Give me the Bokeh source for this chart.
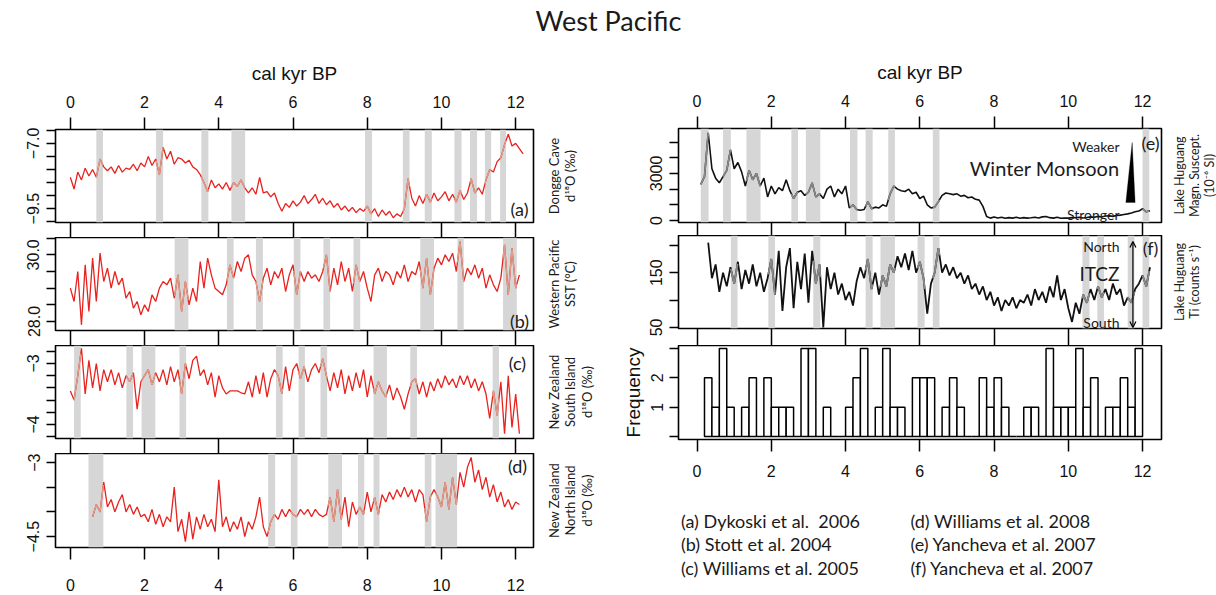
import numpy as np
from bokeh.plotting import figure
from bokeh.layouts import column, row
from bokeh.models import (Range1d, LinearAxis, FixedTicker, BoxAnnotation, Label,
                          Arrow, OpenHead, PolyAnnotation)
from bokeh.embed import file_html
from bokeh.resources import INLINE

# ---------------------------------------------------------------- data
X_TICKS = [0, 2, 4, 6, 8, 10, 12]

# (a) Dongge Cave d18O, ages 0.0 .. 12.2 kyr BP (step 0.1)
DONGGE_START = 0.0
DONGGE = [-8.3, -8.75, -8.1, -8.4, -7.95, -8.25, -8.0, -8.3, -7.6, -7.9,
          -8.05, -7.9, -8.15, -7.85, -8.1, -7.95, -8.0, -7.8, -8.05, -7.75,
          -7.9, -7.5, -7.85, -7.6, -8.2, -7.15, -7.6, -7.3, -7.8, -7.55,
          -7.6, -7.75, -7.65, -7.9, -8.0, -8.2, -8.5, -8.85, -8.4, -8.7,
          -8.55, -8.75, -8.5, -8.8, -8.5, -8.65, -8.4, -8.7, -8.9, -8.7,
          -8.95, -8.3, -8.9, -8.85, -9.05, -8.9, -9.3, -9.6, -9.3, -9.45,
          -9.2, -9.4, -9.25, -9.0, -9.3, -9.15, -8.95, -9.3, -9.1, -9.35,
          -9.2, -9.45, -9.3, -9.55, -9.4, -9.6, -9.45, -9.65, -9.5, -9.6,
          -9.4, -9.7, -9.5, -9.8, -9.55, -9.75, -9.6, -9.85, -9.7, -9.8,
          -9.5, -8.35, -9.1, -9.4, -9.0, -9.3, -8.95, -9.25, -8.9, -9.2,
          -9.05, -8.85, -9.2, -8.95, -9.25, -8.8, -9.15, -8.9, -8.35, -8.9,
          -8.7, -8.95, -8.4, -8.0, -8.1, -7.7, -7.55, -7.05, -6.65, -7.1,
          -7.0, -7.2, -7.4]

# (b) Western Pacific SST, ages 0.0 .. 12.1
SST_START = 0.0
SST = [29.0, 28.6, 29.5, 27.9, 29.7, 28.3, 29.9, 28.6, 30.05, 29.2,
       29.6, 29.0, 29.5, 29.1, 29.3, 28.7, 28.9, 28.4, 28.6, 28.2,
       28.5, 28.3, 28.8, 28.6, 29.0, 29.2, 29.1, 29.3, 28.7, 29.4,
       28.3, 29.2, 28.5, 29.0, 28.6, 29.8, 29.0, 29.9, 29.4, 29.0,
       28.9, 28.8, 29.1, 29.7, 29.3, 29.8, 29.5, 29.9, 30.0, 29.4,
       29.2, 28.6, 29.3, 29.6, 29.1, 29.5, 29.3, 29.6, 28.9, 29.4,
       29.7, 28.8, 29.5, 29.2, 29.5, 29.3, 29.4, 29.2, 29.5, 30.0,
       28.9, 29.6, 29.1, 29.8, 29.2, 29.6, 28.9, 29.7, 29.2, 29.5,
       29.0, 28.6, 29.4, 29.6, 29.2, 29.5, 29.4, 29.1, 29.5, 29.3,
       29.7, 29.2, 29.5, 29.4, 29.8, 29.0, 29.9, 28.8, 29.6, 29.9,
       29.7, 30.0, 29.8, 30.05, 29.5, 30.4, 29.2, 29.6, 29.4, 29.7,
       29.3, 29.6, 29.0, 29.4, 29.1, 28.9, 29.3, 30.3, 28.8, 30.2,
       29.0, 29.4]

# (c) New Zealand South Island d18O, ages 0.0 .. 12.1
NZS_START = 0.0
NZ_SOUTH = [-3.45, -3.6, -3.2, -2.75, -3.5, -2.95, -3.4, -3.0, -3.45, -3.1,
            -3.3, -3.1, -3.35, -3.15, -3.4, -3.2, -3.3, -3.15, -3.75, -3.3,
            -3.2, -3.1, -3.35, -3.15, -3.3, -3.1, -3.35, -3.05, -3.3, -3.1,
            -3.5, -3.0, -3.25, -2.95, -2.88, -3.2, -3.1, -3.35, -3.15, -3.55,
            -3.2, -3.4, -3.5, -3.45, -3.45, -3.45, -3.48, -3.5, -3.3, -3.55,
            -3.2, -3.5, -3.15, -3.55, -3.25, -3.1, -3.2, -3.5, -3.05, -3.45,
            -3.1, -3.0, -3.25, -3.05, -3.3, -3.1, -3.0, -3.15, -2.92, -3.2,
            -3.45, -3.15, -3.4, -3.1, -3.5, -3.2, -3.45, -3.15, -3.4, -3.1,
            -3.55, -3.2, -3.5, -3.3, -3.45, -3.55, -3.35, -3.6, -3.4, -3.55,
            -3.75, -3.5, -3.3, -3.25, -3.5, -3.3, -3.55, -3.3, -3.45, -3.25,
            -3.4, -3.2, -3.35, -3.25, -3.4, -3.2, -3.35, -3.2, -3.4, -3.25,
            -3.45, -3.3, -3.5, -3.9, -3.45, -3.85, -3.3, -4.15, -3.2, -4.05,
            -3.5, -4.15]

# (d) New Zealand North Island d18O, ages 0.6 .. 12.1
NZN_START = 0.6
NZ_NORTH = [-4.1, -3.85, -4.0, -3.4, -3.9, -3.75, -4.0, -3.8, -3.65, -4.0,
            -3.85, -4.05, -3.9, -4.1, -4.05, -4.2, -3.95, -4.25, -4.05, -4.3,
            -4.1, -4.2, -3.5, -4.4, -4.15, -4.6, -4.0, -4.55, -4.1, -4.35,
            -4.05, -4.3, -4.15, -4.4, -3.35, -4.3, -4.1, -4.4, -4.2, -4.35,
            -4.1, -4.5, -4.2, -4.35, -4.1, -3.7, -4.3, -4.5, -4.2, -4.05,
            -4.15, -3.95, -4.1, -3.95, -4.05, -4.1, -3.95, -4.05, -3.95, -4.1,
            -3.95, -4.05, -4.1, -4.05, -3.7, -4.2, -3.55, -4.15, -3.7, -4.3,
            -3.8, -4.05, -3.9, -4.05, -3.6, -4.0, -3.7, -4.05, -3.65, -3.8,
            -3.6, -3.75, -3.55, -3.7, -3.5, -3.7, -3.55, -3.8, -3.55, -3.65,
            -4.2, -3.7, -3.55, -3.7, -3.9, -3.4, -3.95, -3.3, -3.85, -3.2,
            -3.5, -3.1, -2.9, -3.4, -3.15, -3.55, -3.3, -3.7, -3.45, -3.8,
            -3.6, -3.9, -3.75, -3.95, -3.8, -3.85]

# (e) Lake Huguang magnetic susceptibility, ages 0.1 .. 12.2
MS_START = 0.1
MAGSUS = [2300, 2800, 5600, 3300, 2700, 2400, 2800, 3200, 4500, 3300,
          3700, 3100, 2200, 3200, 2600, 3000, 2200, 2700, 1500, 2200,
          1700, 2100, 1900, 2600, 1900, 1400, 1800, 1900, 1600, 1800,
          2400, 1500, 1700, 1400, 2000, 2200, 1500, 2000, 1700, 2200,
          800, 1000, 700, 650, 700, 1200, 750, 850, 800, 1000,
          900, 1700, 2200, 2000, 1900, 1850, 2000, 1700, 1800, 1400,
          1550, 1000, 800, 850, 1200, 1600, 1750, 1700, 1650, 1700,
          1550, 1600, 1450, 1500, 1350, 1300, 900, 250, 150, 220,
          160, 200, 140, 180, 150, 200, 140, 180, 150, 170,
          200, 160, 230, 250, 180, 150, 200, 140, 160, 150,
          180, 170, 200, 160, 190, 230, 200, 260, 220, 280,
          300, 260, 320, 340, 380, 420, 480, 560, 600, 750,
          550, 620]

# (f) Lake Huguang Ti, ages 0.3 .. 12.2
TI_START = 0.3
TI = [205, 140, 165, 115, 150, 125, 160, 130, 170, 120,
      155, 130, 165, 125, 150, 115, 140, 175, 110, 190,
      80, 160, 195, 85, 170, 120, 185, 95, 190, 130,
      165, 50, 160, 120, 150, 110, 130, 100, 115, 90,
      135, 160, 140, 175, 120, 150, 110, 145, 125, 165,
      150, 180, 160, 185, 155, 190, 150, 170, 140, 75,
      130, 150, 195, 150, 165, 145, 160, 140, 150, 130,
      145, 120, 130, 110, 125, 100, 115, 90, 105, 80,
      100, 90, 105, 85, 100, 95, 110, 90, 120, 100,
      115, 95, 125, 105, 145, 100, 120, 85, 60, 95,
      75, 110, 95, 120, 100, 125, 105, 120, 100, 130,
      110, 120, 90, 105, 95, 120, 130, 145, 125, 160]

# histogram of event frequency, 0.2-kyr bins starting at 0.2 kyr
HIST_FIRST = 0.2
HIST_WIDTH = 0.2
HIST_COUNTS = [2, 1, 3, 1, 0, 1, 2, 0, 2, 1, 1, 1, 0, 3, 3, 0, 1, 0, 0, 1,
               2, 3, 0, 1, 3, 1, 1, 0, 2, 2, 2, 0, 1, 2, 1, 0, 0, 2, 1, 2,
               1, 0, 0, 1, 1, 0, 3, 1, 1, 1, 3, 1, 2, 0, 1, 1, 2, 1, 3]

# shaded intervals (kyr BP) per panel
BANDS_A = [(0.70, 0.88), (2.31, 2.50), (3.53, 3.72), (4.34, 4.71), (7.94, 8.13),
           (8.96, 9.14), (9.55, 9.74), (10.35, 10.54), (10.77, 10.96),
           (11.17, 11.34), (11.58, 11.74)]
BANDS_B = [(2.81, 3.18), (4.22, 4.40), (5.00, 5.19), (6.02, 6.20), (6.82, 7.00),
           (7.63, 7.81), (9.43, 9.80), (10.43, 10.60), (11.66, 12.03)]
BANDS_C = [(0.10, 0.28), (1.51, 1.69), (1.92, 2.29), (2.94, 3.12), (5.54, 5.72),
           (6.15, 6.32), (6.74, 6.92), (8.17, 8.53), (9.16, 9.34), (11.38, 11.55)]
BANDS_D = [(0.49, 0.89), (5.33, 5.52), (5.94, 6.12), (6.95, 7.32), (7.75, 7.92),
           (8.17, 8.33), (9.55, 9.73), (9.84, 10.42)]
BANDS_E = [(0.10, 0.31), (0.70, 0.91), (1.33, 1.71), (2.54, 2.72), (2.93, 3.32),
           (4.12, 4.32), (4.54, 4.73), (5.15, 5.33), (6.35, 6.53), (12.00, 12.18)]
BANDS_F = [(0.91, 1.09), (1.92, 2.10), (3.13, 3.32), (4.54, 4.73), (4.94, 5.33),
           (5.94, 6.13), (6.35, 6.53), (10.38, 10.57), (10.78, 10.96),
           (11.60, 11.78), (12.00, 12.18)]

# y-axis ticks and their labels
YT_A = [-6.5, -7.0, -7.5, -8.0, -8.5, -9.0, -9.5, -10.0]
YL_A = ["", "\u22127.0", "", "", "", "", "\u22129.5", ""]
YT_B = [28.0, 28.5, 29.0, 29.5, 30.0, 30.5]
YL_B = ["28.0", "", "", "", "30.0", ""]
YT_C = [-2.8, -3.0, -3.2, -3.4, -3.6, -3.8, -4.0, -4.2]
YL_C = ["", "\u22123", "", "", "", "", "\u22124", ""]
YT_D = [-3.0, -3.5, -4.0, -4.5]
YL_D = ["\u22123", "", "", "\u22124.5"]
YT_E = [0, 1000, 2000, 3000, 4000, 5000]
YL_E = ["0", "", "", "3000", "", ""]
YT_F = [50, 100, 150, 200]
YL_F = ["50", "", "150", ""]
YT_H = [0, 1, 2, 3]
YL_H = ["", "1", "2", ""]

SIDE_A = ["Dongge Cave", "d\u00b9\u2078O (\u2030)"]
SIDE_B = ["Western Pacific", "SST (\u00b0C)"]
SIDE_C = ["New Zealand", "South Island", "d\u00b9\u2078O (\u2030)"]
SIDE_D = ["New Zealand", "North Island", "d\u00b9\u2078O (\u2030)"]
SIDE_E = ["Lake Huguang", "Magn. Suscept.", "(10\u207b\u2076 SI)"]
SIDE_F = ["Lake Huguang", "Ti (counts s\u207b\u00b9)"]

LEGEND_LEFT = ["(a) Dykoski et al.\u00a0 2006", "(b) Stott et al. 2004", "(c) Williams et al. 2005"]
LEGEND_RIGHT = ["(d) Williams et al. 2008", "(e) Yancheva et al. 2007", "(f) Yancheva et al. 2007"]

# ---------------------------------------------------------------- style
TICK_FONT = "Liberation Sans"
TXT_FONT = "Lato"
RED = "#e8221e"
RED_IN_BAND = "#d9a08c"
BLK = "#111111"
BLK_IN_BAND = "#8a8a8a"
BAND_FILL = "#d6d6d6"
XR_LEFT = (-0.40, 12.48)
XR_RIGHT = (-0.50, 12.51)


def ages(start, vals, step=0.1):
    return np.round(start + step * np.arange(len(vals)), 3)


def no_align(p):
    try:
        p.frame_align = False
    except Exception:
        pass


def kill_grid(p):
    for g in p.grid:
        g.visible = False


def make_fig(w, h, xr, yr, bl, br, bt, bb):
    p = figure(width=w, height=h, x_range=Range1d(*xr), y_range=Range1d(*yr),
               output_backend="svg", toolbar_location=None,
               x_axis_location=None, y_axis_location=None,
               min_border_left=bl, min_border_right=br,
               min_border_top=bt, min_border_bottom=bb)
    kill_grid(p)
    no_align(p)
    p.outline_line_color = "black"
    p.outline_line_width = 1.6
    p.background_fill_color = "white"
    p.border_fill_color = "white"
    return p


def blank_fig(w, h):
    p = figure(width=w, height=h, x_range=Range1d(0, w), y_range=Range1d(0, h),
               output_backend="svg", toolbar_location=None,
               x_axis_location=None, y_axis_location=None, min_border=0)
    kill_grid(p)
    no_align(p)
    p.outline_line_color = None
    p.background_fill_color = "white"
    p.border_fill_color = "white"
    return p


def x_axis(p, side, tick_out, show=False, standoff=8, title=None):
    ax = LinearAxis(ticker=FixedTicker(ticks=X_TICKS, minor_ticks=[]),
                    axis_line_color=None, major_tick_in=0, major_tick_out=tick_out,
                    major_tick_line_width=1.5, major_tick_line_color="black")
    if show:
        ax.major_label_text_font = TICK_FONT
        ax.major_label_text_font_size = "16px"
        ax.major_label_text_color = "#111111"
        ax.major_label_standoff = standoff
    else:
        ax.major_label_text_font_size = "0px"
        ax.major_label_text_color = None
        ax.major_label_standoff = 0
    if title:
        ax.axis_label = title
        ax.axis_label_text_font = TICK_FONT
        ax.axis_label_text_font_size = "19px"
        ax.axis_label_text_font_style = "normal"
        ax.axis_label_text_color = "#111111"
        ax.axis_label_standoff = 9
    p.add_layout(ax, side)


def y_axis(p, ticks, labels, title=None):
    ax = LinearAxis(ticker=FixedTicker(ticks=ticks, minor_ticks=[]),
                    axis_line_color=None, major_tick_in=0, major_tick_out=9,
                    major_tick_line_width=1.5, major_tick_line_color="black",
                    major_label_orientation="vertical", major_label_standoff=7,
                    major_label_text_font=TICK_FONT, major_label_text_font_size="16px",
                    major_label_text_color="#111111",
                    major_label_overrides=dict(zip(ticks, labels)))
    if title:
        ax.axis_label = title
        ax.axis_label_text_font = TICK_FONT
        ax.axis_label_text_font_size = "19px"
        ax.axis_label_text_font_style = "normal"
        ax.axis_label_text_color = "#111111"
        ax.axis_label_standoff = 4
    p.add_layout(ax, "left")


def add_bands(p, bands):
    for b0, b1 in bands:
        p.add_layout(BoxAnnotation(left=b0, right=b1, fill_color=BAND_FILL, fill_alpha=1.0,
                                   line_color=None, level="underlay"))


def band_parts(x, y, bands):
    x = np.asarray(x, float)
    y = np.asarray(y, float)
    xs, ys = [], []
    for b0, b1 in bands:
        lo, hi = max(b0, x[0]), min(b1, x[-1])
        if hi <= lo:
            continue
        inside = (x > lo) & (x < hi)
        xs.append([lo] + list(x[inside]) + [hi])
        ys.append([float(np.interp(lo, x, y))] + list(y[inside]) + [float(np.interp(hi, x, y))])
    return xs, ys


def series(p, x, y, bands, col, col_band, lw):
    add_bands(p, bands)
    p.line(list(x), list(y), line_color=col, line_width=lw)
    xs, ys = band_parts(x, y, bands)
    if xs:
        p.multi_line(xs, ys, line_color=col_band, line_width=lw)


def txt(p, x, y, text, size, align="left", angle=0.0, font=TXT_FONT, baseline="middle"):
    p.add_layout(Label(x=x, y=y, x_units="screen", y_units="screen", text=text,
                       text_font=font, text_font_size=size, text_color="#1a1a1a",
                       text_align=align, text_baseline=baseline, angle=angle))


def side_fig(w, h, yc, lines, x0, step, size="13px"):
    s = blank_fig(w, h)
    for i, t in enumerate(lines):
        txt(s, x0 + i * step, yc, t, size, align="center", angle=np.pi / 2)
    return s


# ---------------------------------------------------------------- header
header = blank_fig(1216, 50)
txt(header, 608, 30, "West Pacific", "27px", align="center")

# ---------------------------------------------------------------- left column
LBL, LBR = 55, 2
LFW = 478
LW = LBL + LFW + LBR          # 535
LSW = 608 - LW                # 73

pa = make_fig(LW, 187, XR_LEFT, (-10.03, -6.47), LBL, LBR, 79, 15)
x_axis(pa, "above", 12, show=True, standoff=10, title="cal kyr BP")
x_axis(pa, "below", 15)
y_axis(pa, YT_A, YL_A)
series(pa, ages(DONGGE_START, DONGGE), DONGGE, BANDS_A, RED, RED_IN_BAND, 1.3)
txt(pa, 464, 14, "(a)", "18px", align="center")
sa = side_fig(LSW, 187, 15 + 46.5, SIDE_A, 18, 16.5)

pb = make_fig(LW, 108, XR_LEFT, (27.73, 30.52), LBL, LBR, 0, 15)
x_axis(pb, "below", 15)
y_axis(pb, YT_B, YL_B)
series(pb, ages(SST_START, SST), SST, BANDS_B, RED, RED_IN_BAND, 1.3)
txt(pb, 464, 10, "(b)", "18px", align="center")
sb = side_fig(LSW, 108, 15 + 46.5, SIDE_B, 18, 16.5)

pc = make_fig(LW, 108, XR_LEFT, (-4.23, -2.705), LBL, LBR, 0, 15)
x_axis(pc, "below", 15)
y_axis(pc, YT_C, YL_C)
series(pc, ages(NZS_START, NZ_SOUTH), NZ_SOUTH, BANDS_C, RED, RED_IN_BAND, 1.3)
txt(pc, 462, 76, "(c)", "18px", align="center")
sc = side_fig(LSW, 108, 15 + 46.5, SIDE_C, 18, 16.5)

pd_ = make_fig(LW, 142, XR_LEFT, (-4.72, -2.82), LBL, LBR, 0, 48)
x_axis(pd_, "below", 12, show=True, standoff=19)
y_axis(pd_, YT_D, YL_D)
series(pd_, ages(NZN_START, NZ_NORTH), NZ_NORTH, BANDS_D, RED, RED_IN_BAND, 1.3)
txt(pd_, 462, 82, "(d)", "18px", align="center")
sd = side_fig(LSW, 142, 48 + 47, SIDE_D, 18, 16.5)

# ---------------------------------------------------------------- right column
RBL, RBR = 70, 2
RFW = 483
RW = RBL + RFW + RBR          # 555
RSW = 608 - RW                # 53

pe = make_fig(RW, 185, XR_RIGHT, (-130, 5870), RBL, RBR, 78, 13)
x_axis(pe, "above", 12, show=True, standoff=10, title="cal kyr BP")
x_axis(pe, "below", 13)
y_axis(pe, YT_E, YL_E)
series(pe, ages(MS_START, MAGSUS), MAGSUS, BANDS_E, BLK, BLK_IN_BAND, 1.6)
WEDGE_X = [11.55, 11.80, 11.72]
WEDGE_Y = [1150, 1150, 4980]
pe.add_layout(PolyAnnotation(xs=WEDGE_X, ys=WEDGE_Y, fill_color="black", fill_alpha=1.0,
                             line_color="black", line_width=1))
txt(pe, 441, 76, "Weaker", "14px", align="right")
txt(pe, 441, 55, "Winter Monsoon", "20px", align="right")
txt(pe, 441, 8, "Stronger", "14px", align="right")
txt(pe, 472, 80, "(e)", "18px", align="center")
se = side_fig(RSW, 185, 13 + 47, SIDE_E, 16, 15, size="12.5px")

pf = make_fig(RW, 110, XR_RIGHT, (48, 218), RBL, RBR, 0, 17)
x_axis(pf, "below", 17)
y_axis(pf, YT_F, YL_F)
series(pf, ages(TI_START, TI), TI, BANDS_F, BLK, BLK_IN_BAND, 1.8)
pf.add_layout(Arrow(x_start=11.74, y_start=50, x_end=11.74, y_end=207,
                    line_color="black", line_width=1.2,
                    start=OpenHead(size=6, line_width=1.2), end=OpenHead(size=6, line_width=1.2)))
txt(pf, 441, 82, "North", "14px", align="right")
txt(pf, 441, 55, "ITCZ", "19px", align="right")
txt(pf, 441, 6, "South", "14px", align="right")
txt(pf, 472, 81, "(f)", "18px", align="center")
sf = side_fig(RSW, 110, 17 + 46.5, SIDE_F, 16, 15, size="12.5px")

ph = make_fig(608, 142, XR_RIGHT, (-0.1, 3.1), RBL, 55, 0, 48)
x_axis(ph, "below", 12, show=True, standoff=13)
y_axis(ph, YT_H, YL_H, title="Frequency")
h_left = np.round(HIST_FIRST + HIST_WIDTH * np.arange(len(HIST_COUNTS)), 3)
ph.quad(left=list(h_left), right=list(h_left + HIST_WIDTH), bottom=0, top=HIST_COUNTS,
        fill_color="white", line_color="black", line_width=1.5)

leg = blank_fig(608, 108)
for i, t in enumerate(LEGEND_LEFT):
    txt(leg, 72.5, 75 - 23.5 * i, t, "18px")
for i, t in enumerate(LEGEND_RIGHT):
    txt(leg, 302, 75 - 23.5 * i, t, "18px")

left_col = column(row(pa, sa, spacing=0), row(pb, sb, spacing=0),
                  row(pc, sc, spacing=0), row(pd_, sd, spacing=0), spacing=0)
right_col = column(row(pe, se, spacing=0), row(pf, sf, spacing=0), ph, leg, spacing=0)
layout = column(header, row(left_col, right_col, spacing=0), spacing=0)

with open("out.html", "w") as f:
    f.write(file_html(layout, INLINE))
